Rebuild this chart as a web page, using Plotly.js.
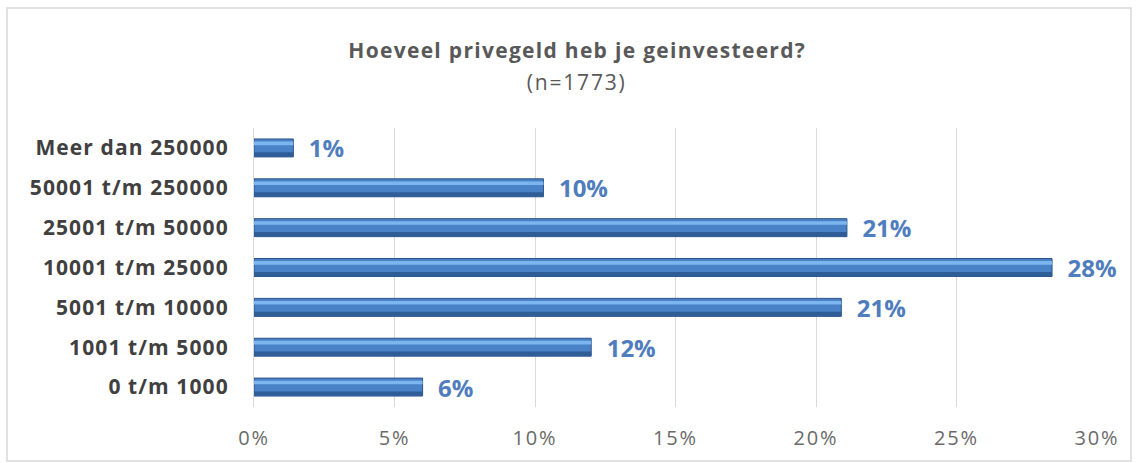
<!DOCTYPE html>
<html>
<head>
<meta charset="utf-8">
<script src="https://cdn.plot.ly/plotly-3.0.1.min.js"></script>
<style>
html,body{margin:0;padding:0;background:#fff;}
#chart{width:1139px;height:463px;}
#chart .ytick text{letter-spacing:1.1px;}
#chart .xtick text{letter-spacing:1.8px;}
#chart g.annotation[data-index="0"] text{letter-spacing:1.3px;}
#chart g.annotation[data-index="1"] text{letter-spacing:1.8px;}
</style>
</head>
<body>
<div id="chart"></div>
<script>
const categories = ["0 t/m 1000","1001 t/m 5000","5001 t/m 10000","10001 t/m 25000","25001 t/m 50000","50001 t/m 250000","Meer dan 250000"];
const percentages = [6.0, 12.0, 20.9, 28.4, 21.1, 10.3, 1.4];
const xTickValues = [0,5,10,15,20,25,30];
const xTickLabels = ["0%","5%","10%","15%","20%","25%","30%"];
const titleText = "Hoeveel privegeld heb je geinvesteerd?";
const subtitleText = "(n=1773)";

const FONT = "'Open Sans', Lato, sans-serif";

const mainBars = {
  type: 'bar', orientation: 'h',
  y: categories, x: percentages,
  width: 0.45,
  marker: {color: '#4a82c8', line: {color: '#2b5287', width: 1}},
  texttemplate: '\u00a0\u00a0%{x:.0f}%',
  textposition: 'outside',
  constraintext: 'none',
  cliponaxis: false,
  textfont: {family: FONT, size: 24, color: '#4f7dbd', weight: 'bold'},
  hoverinfo: 'skip'
};
const darkBand = {
  type: 'bar', orientation: 'h',
  y: categories, x: percentages,
  width: 0.11, offset: -0.22,
  marker: {color: '#2f5d98', line: {width: 0}},
  hoverinfo: 'skip'
};
const highlight = {
  type: 'bar', orientation: 'h',
  y: categories, x: percentages,
  width: 0.09, offset: 0.07,
  marker: {color: '#7db5ee', line: {width: 0}},
  hoverinfo: 'skip'
};

const layout = {
  width: 1139, height: 463,
  margin: {l: 254, r: 42, t: 128, b: 56},
  paper_bgcolor: '#fff', plot_bgcolor: '#fff',
  showlegend: false,
  barmode: 'overlay',
  font: {family: FONT, color: '#595959'},
  xaxis: {
    range: [0, 30],
    tickvals: xTickValues, ticktext: xTickLabels,
    showgrid: true, gridcolor: '#d9d9d9', gridwidth: 1,
    zeroline: false,
    ticks: 'outside', ticklen: 13, tickcolor: 'rgba(0,0,0,0)',
    tickfont: {family: FONT, size: 20, color: '#6a6a6a'},
    fixedrange: true
  },
  yaxis: {
    type: 'category',
    range: [-0.5, 6.5],
    showline: true, linecolor: '#d9d9d9', linewidth: 1,
    showgrid: false, zeroline: false,
    ticks: 'outside', ticklen: 20, tickcolor: 'rgba(0,0,0,0)',
    tickfont: {family: FONT, size: 21, color: '#404040', weight: 'bold'},
    fixedrange: true
  },
  annotations: [
    {text: titleText, xref: 'paper', yref: 'paper', x: 0.383, y: 1 + 78/279,
     xanchor: 'center', yanchor: 'middle', showarrow: false,
     font: {family: FONT, size: 21, color: '#595959', weight: 'bold'}},
    {text: subtitleText, xref: 'paper', yref: 'paper', x: 0.383, y: 1 + 46/279,
     xanchor: 'center', yanchor: 'middle', showarrow: false,
     font: {family: FONT, size: 21, color: '#595959'}}
  ],
  shapes: [
    {type: 'rect', xref: 'paper', yref: 'paper',
     x0: (7-254)/843, x1: (1131-254)/843, y0: -(461-407)/279, y1: 1 + (128-8)/279,
     line: {color: '#d9d9d9', width: 1.5}, fillcolor: 'rgba(0,0,0,0)', layer: 'below'}
  ]
};

Plotly.newPlot('chart', [mainBars, darkBand, highlight], layout, {displayModeBar: false, staticPlot: true});
</script>
</body>
</html>
